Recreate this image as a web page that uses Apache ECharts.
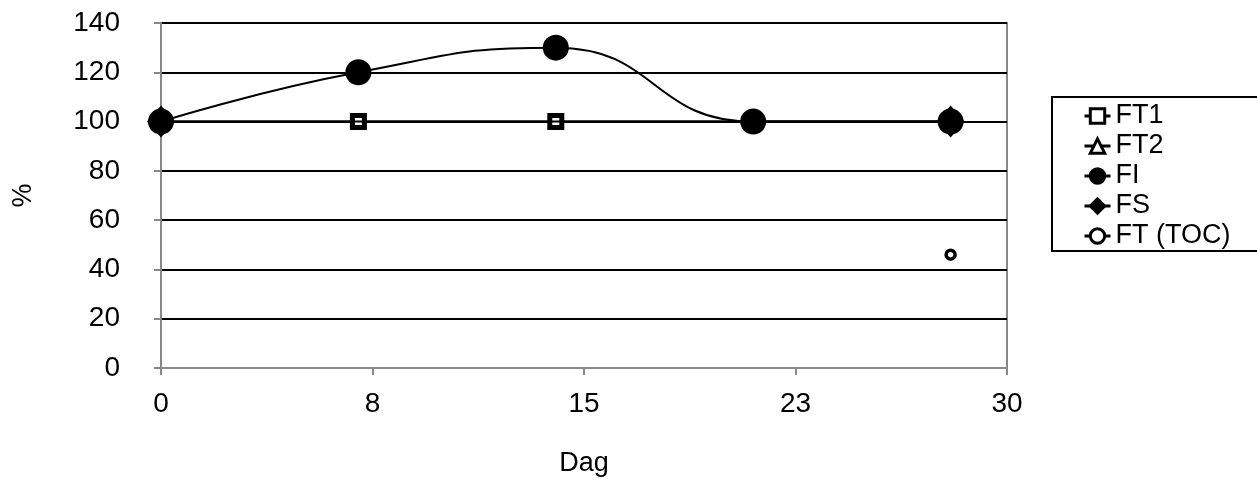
<!DOCTYPE html>
<html>
<head>
<meta charset="utf-8">
<script src="https://cdn.jsdelivr.net/npm/echarts@6/dist/echarts.min.js"></script>
<style>
html, body { margin: 0; padding: 0; background: #fff; }
#main { width: 1257px; height: 482px; }
</style>
</head>
<body>
<div id="main"></div>
<script>
var days = [0, 7, 14, 21, 28];
var ft1 = [100, 100, 100, 100, 100];
var ft2 = [null, null, null, null, null];
var fi = [100, 120, 130, 100, 100];
var fs = [100, null, null, null, 100];
var ftToc = [null, null, null, null, 46];
var yTicks = [0, 20, 40, 60, 80, 100, 120, 140];

var fontName = 'Liberation Sans';

function pairs(arr) {
	var out = [];
	for (var i = 0; i < days.length; i++) {
		if (arr[i] != null) out.push([days[i], arr[i]]);
	}
	return out;
}

var myChart = echarts.init(document.getElementById('main'));
var option = {
	animation : false,
	textStyle : { fontFamily : fontName },
	grid : {
		left : 161, right : 250, top : 23, bottom : 113,
		show : true, borderColor : '#888', borderWidth : 2
	},
	legend : {
		orient : 'vertical',
		left : 1052, top : 97,
		padding : [4, 40, 0, 31],
		itemGap : 0,
		itemWidth : 26, itemHeight : 18,
		borderColor : '#000', borderWidth : 2,
		itemStyle : { borderWidth : 3 },
		lineStyle : { width : 3 },
		textStyle : { fontFamily : fontName, fontSize : 27, color : '#000', lineHeight : 30 },
		data : ['FT1', 'FT2', 'FI', 'FS', 'FT (TOC)']
	},
	xAxis : {
		type : 'value', min : 0, max : 30, interval : 7.5,
		name : 'Dag', nameLocation : 'middle', nameGap : 82,
		nameTextStyle : { fontFamily : fontName, fontSize : 27, color : '#000' },
		axisLine : { lineStyle : { color : '#888', width : 2 } },
		axisTick : { show : true, length : 7, lineStyle : { color : '#888', width : 2 } },
		axisLabel : {
			margin : 22, fontSize : 28, color : '#000',
			formatter : function(v) { return Math.round(v); }
		},
		splitLine : { show : false }
	},
	yAxis : {
		type : 'value', min : yTicks[0], max : yTicks[yTicks.length - 1], interval : 20,
		name : '%', nameLocation : 'middle', nameGap : 124, nameRotate : 90,
		nameTextStyle : { fontFamily : fontName, fontSize : 27, color : '#000' },
		axisLine : { show : true, lineStyle : { color : '#888', width : 2 } },
		axisTick : { show : true, length : 7, lineStyle : { color : '#888', width : 2 } },
		axisLabel : { margin : 41, fontSize : 28, color : '#000' },
		splitLine : { show : true, lineStyle : { color : '#000', width : 2 } }
	},
	series : [ {
		name : 'FT1', type : 'line', data : pairs(ft1), z : 3,
		symbol : 'rect', symbolSize : 12,
		itemStyle : { color : '#fff', borderColor : '#000', borderWidth : 5 },
		lineStyle : { color : '#000', width : 2 }
	}, {
		name : 'FT2', type : 'line', data : pairs(ft2), z : 3,
		symbol : 'triangle', symbolSize : 13,
		itemStyle : { color : '#fff', borderColor : '#000', borderWidth : 4 },
		lineStyle : { color : '#000', width : 2 }
	}, {
		name : 'FS', type : 'line', data : pairs(fs), z : 4,
		symbol : 'diamond', symbolSize : [28, 32],
		itemStyle : { color : '#000', borderColor : '#000', borderWidth : 0 },
		lineStyle : { color : '#000', width : 2 }
	}, {
		name : 'FI', type : 'line', data : pairs(fi), z : 5,
		smooth : 0.5,
		symbol : 'circle', symbolSize : 26,
		itemStyle : { color : '#000', borderColor : '#000', borderWidth : 0 },
		lineStyle : { color : '#000', width : 2 }
	}, {
		name : 'FT (TOC)', type : 'line', data : pairs(ftToc), z : 6,
		symbol : 'circle', symbolSize : 9,
		itemStyle : { color : '#fff', borderColor : '#000', borderWidth : 3.5 },
		lineStyle : { color : '#000', width : 2 }
	} ]
};
myChart.setOption(option);
</script>
</body>
</html>
